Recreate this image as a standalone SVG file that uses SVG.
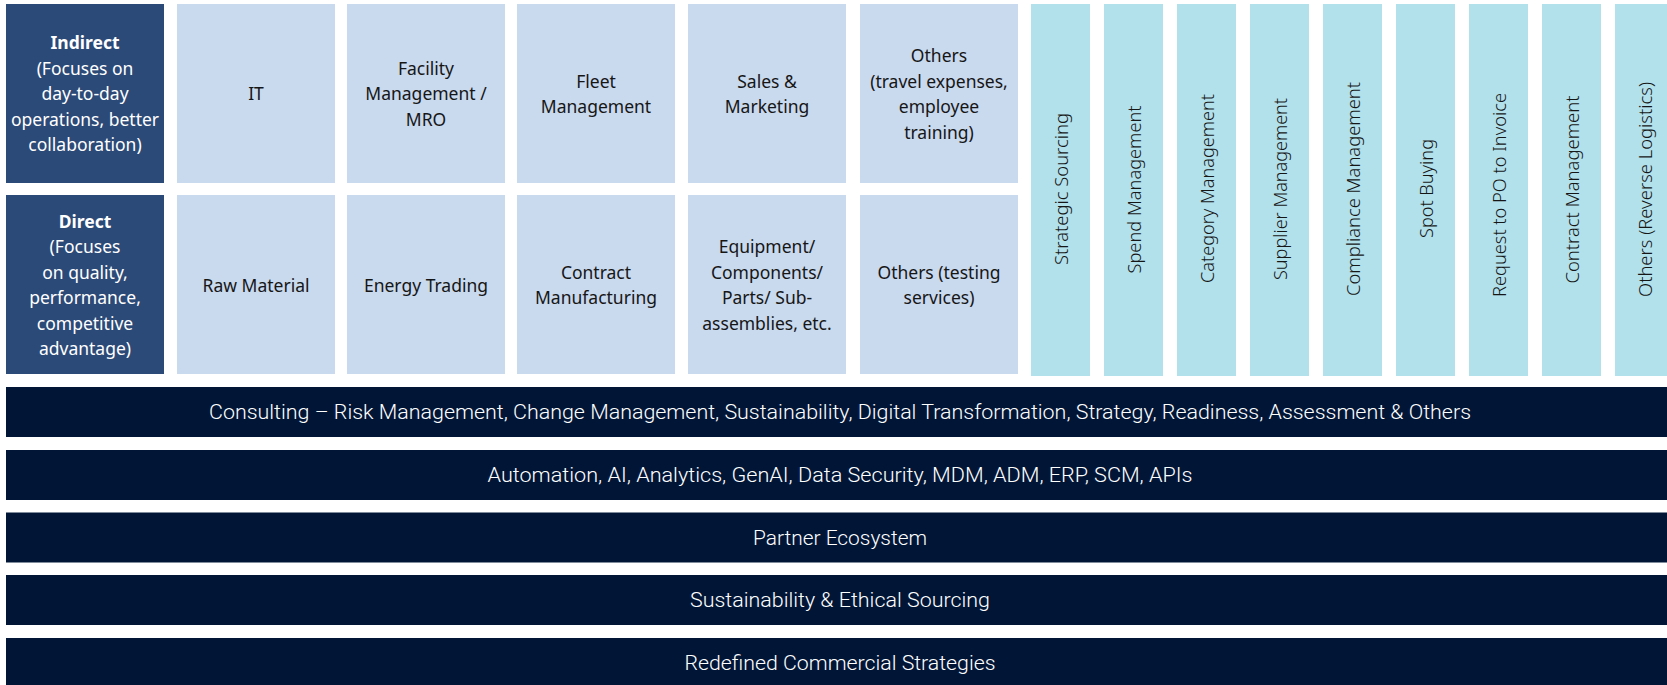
<svg xmlns="http://www.w3.org/2000/svg" width="1667" height="685" viewBox="0 0 1667 685">
<style>
.hd{fill:#2c4a78}
.lt{fill:#c9d9ee}
.col{fill:#b2e1ec}
.band{fill:#011637}
.wt{font-family:"Noto Sans","Liberation Sans",sans-serif;font-size:17.5px;fill:#ffffff;text-anchor:middle;dominant-baseline:central}
.bx{font-family:"Noto Sans","Liberation Sans",sans-serif;font-size:17.5px;fill:#161616;text-anchor:middle;dominant-baseline:central}
.vt{font-family:"Noto Sans","Liberation Sans",sans-serif;font-size:18px;font-weight:300;fill:#161616;text-anchor:middle;dominant-baseline:central}
.bt{font-family:Roboto,"Noto Sans",sans-serif;font-size:21px;font-weight:300;fill:#ffffff;text-anchor:middle;dominant-baseline:central}
</style>
<rect width="1667" height="685" fill="#ffffff"/>
<g id="indirect">
<rect class="hd" x="6" y="4" width="158" height="179"/>
<text class="wt" x="85" y="42" font-weight="bold">Indirect</text>
<text class="wt" x="85" y="67.5">(Focuses on</text>
<text class="wt" x="85" y="93">day-to-day</text>
<text class="wt" x="85" y="118.5">operations, better</text>
<text class="wt" x="85" y="144">collaboration)</text>
</g>
<g id="direct">
<rect class="hd" x="6" y="195" width="158" height="179"/>
<text class="wt" x="85" y="220.5" font-weight="bold">Direct</text>
<text class="wt" x="85" y="246">(Focuses</text>
<text class="wt" x="85" y="271.5">on quality,</text>
<text class="wt" x="85" y="297">performance,</text>
<text class="wt" x="85" y="322.5">competitive</text>
<text class="wt" x="85" y="348">advantage)</text>
</g>
<g id="it">
<rect class="lt" x="177" y="4" width="158" height="179"/>
<text class="bx" x="256" y="93">IT</text>
</g>
<g id="facility">
<rect class="lt" x="347" y="4" width="158" height="179"/>
<text class="bx" x="426" y="67.5">Facility</text>
<text class="bx" x="426" y="93">Management /</text>
<text class="bx" x="426" y="118.5">MRO</text>
</g>
<g id="fleet">
<rect class="lt" x="517" y="4" width="158" height="179"/>
<text class="bx" x="596" y="80.5">Fleet</text>
<text class="bx" x="596" y="106">Management</text>
</g>
<g id="sales">
<rect class="lt" x="688" y="4" width="158" height="179"/>
<text class="bx" x="767" y="80.5">Sales &amp;</text>
<text class="bx" x="767" y="106">Marketing</text>
</g>
<g id="others-indirect">
<rect class="lt" x="860" y="4" width="158" height="179"/>
<text class="bx" x="939" y="55">Others</text>
<text class="bx" x="939" y="80.5">(travel expenses,</text>
<text class="bx" x="939" y="106">employee</text>
<text class="bx" x="939" y="131.5">training)</text>
</g>
<g id="raw-material">
<rect class="lt" x="177" y="195" width="158" height="179"/>
<text class="bx" x="256" y="284.5">Raw Material</text>
</g>
<g id="energy-trading">
<rect class="lt" x="347" y="195" width="158" height="179"/>
<text class="bx" x="426" y="284.5">Energy Trading</text>
</g>
<g id="contract-manufacturing">
<rect class="lt" x="517" y="195" width="158" height="179"/>
<text class="bx" x="596" y="271.5">Contract</text>
<text class="bx" x="596" y="297">Manufacturing</text>
</g>
<g id="equipment">
<rect class="lt" x="688" y="195" width="158" height="179"/>
<text class="bx" x="767" y="246">Equipment/</text>
<text class="bx" x="767" y="271.5">Components/</text>
<text class="bx" x="767" y="297">Parts/ Sub-</text>
<text class="bx" x="767" y="322.5">assemblies, etc.</text>
</g>
<g id="others-direct">
<rect class="lt" x="860" y="195" width="158" height="179"/>
<text class="bx" x="939" y="271.5">Others (testing</text>
<text class="bx" x="939" y="297">services)</text>
</g>
<g id="strategic-sourcing">
<rect class="col" x="1031" y="4" width="59" height="372"/>
<text class="vt" transform="translate(1060.5 189) rotate(-90)" textLength="152" lengthAdjust="spacingAndGlyphs">Strategic Sourcing</text>
</g>
<g id="spend-management">
<rect class="col" x="1104" y="4" width="59" height="372"/>
<text class="vt" transform="translate(1133.5 189.5) rotate(-90)" textLength="168" lengthAdjust="spacingAndGlyphs">Spend Management</text>
</g>
<g id="category-management">
<rect class="col" x="1177" y="4" width="59" height="372"/>
<text class="vt" transform="translate(1206.5 188.5) rotate(-90)" textLength="189" lengthAdjust="spacingAndGlyphs">Category Management</text>
</g>
<g id="supplier-management">
<rect class="col" x="1250" y="4" width="59" height="372"/>
<text class="vt" transform="translate(1279.5 189) rotate(-90)" textLength="182" lengthAdjust="spacingAndGlyphs">Supplier Management</text>
</g>
<g id="compliance-management">
<rect class="col" x="1323" y="4" width="59" height="372"/>
<text class="vt" transform="translate(1352.5 189) rotate(-90)" textLength="214" lengthAdjust="spacingAndGlyphs">Compliance Management</text>
</g>
<g id="spot-buying">
<rect class="col" x="1396" y="4" width="59" height="372"/>
<text class="vt" transform="translate(1425.5 188.5) rotate(-90)" textLength="99" lengthAdjust="spacingAndGlyphs">Spot Buying</text>
</g>
<g id="request-to-invoice">
<rect class="col" x="1469" y="4" width="59" height="372"/>
<text class="vt" transform="translate(1498.5 195) rotate(-90)" textLength="204" lengthAdjust="spacingAndGlyphs">Request to PO to Invoice</text>
</g>
<g id="contract-management">
<rect class="col" x="1542" y="4" width="59" height="372"/>
<text class="vt" transform="translate(1571.5 189.5) rotate(-90)" textLength="188" lengthAdjust="spacingAndGlyphs">Contract Management</text>
</g>
<g id="others-reverse-logistics">
<rect class="col" x="1615" y="4" width="59" height="372"/>
<text class="vt" transform="translate(1644.5 189.5) rotate(-90)" textLength="215" lengthAdjust="spacingAndGlyphs">Others (Reverse Logistics)</text>
</g>
<g id="consulting">
<rect class="band" x="6" y="387" width="1661" height="50"/>
<text class="bt" x="840" y="412" textLength="1262" lengthAdjust="spacingAndGlyphs">Consulting – Risk Management, Change Management, Sustainability, Digital Transformation, Strategy, Readiness, Assessment &amp; Others</text>
</g>
<g id="automation">
<rect class="band" x="6" y="450" width="1661" height="50"/>
<text class="bt" x="840" y="475" textLength="705" lengthAdjust="spacingAndGlyphs">Automation, AI, Analytics, GenAI, Data Security, MDM, ADM, ERP, SCM, APIs</text>
</g>
<g id="partner">
<rect class="band" x="6" y="512.5" width="1661" height="50"/>
<text class="bt" x="840" y="537.5" textLength="174" lengthAdjust="spacingAndGlyphs">Partner Ecosystem</text>
</g>
<g id="sustainability">
<rect class="band" x="6" y="575" width="1661" height="50"/>
<text class="bt" x="840" y="600" textLength="300" lengthAdjust="spacingAndGlyphs">Sustainability &amp; Ethical Sourcing</text>
</g>
<g id="redefined">
<rect class="band" x="6" y="638" width="1661" height="50"/>
<text class="bt" x="840" y="663" textLength="311" lengthAdjust="spacingAndGlyphs">Redefined Commercial Strategies</text>
</g>
<g id="connectors"></g>
</svg>
